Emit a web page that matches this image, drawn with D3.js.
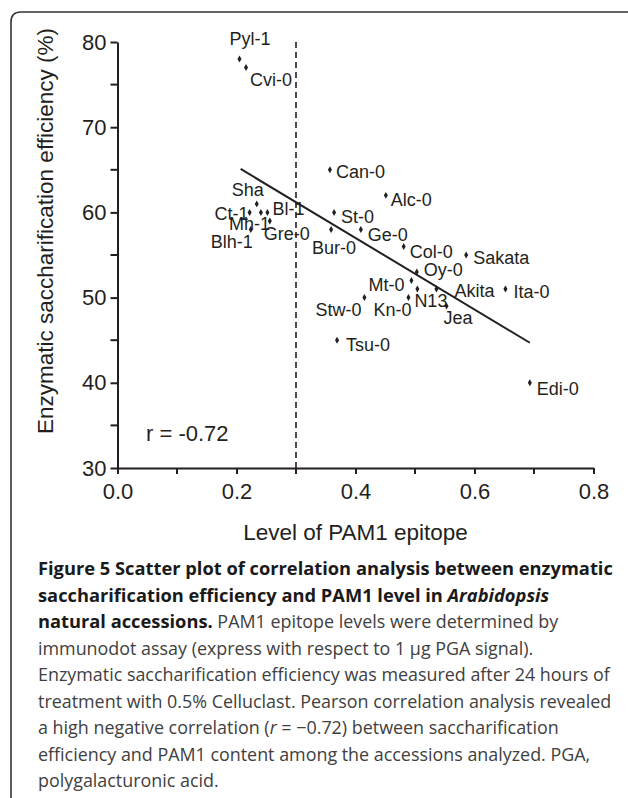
<!DOCTYPE html>
<meta charset="utf-8">
<style>
body { margin: 0; background: #fff; }
.axis text { font-family: 'Liberation Sans', Arial, sans-serif; font-size: 22px; fill: #231f20; }
.axis line, .axis path { stroke: #231f20; stroke-width: 2px; }
.pt-label { font-family: 'Liberation Sans', Arial, sans-serif; font-size: 18px; fill: #231f20; }
.caption { font-family: 'Open Sans', sans-serif; font-size: 18.3px; }
</style>
<div id='chart'></div>
<script src='https://cdn.jsdelivr.net/npm/d3@7/dist/d3.min.js'></script>
<script>

// accessions, PAM1 epitope level, saccharification efficiency (%)
const accessions = ['Pyl-1', 'Cvi-0', 'Sha', 'Ct-1', 'Mh-1', 'Bl-1', 'Gre-0', 'Blh-1',
                    'Can-0', 'Alc-0', 'St-0', 'Bur-0', 'Ge-0', 'Col-0', 'Sakata', 'Oy-0',
                    'Mt-0', 'Akita', 'N13', 'Kn-0', 'Stw-0', 'Jea', 'Ita-0', 'Tsu-0', 'Edi-0'];
const pam1Level = [0.205, 0.216, 0.234, 0.222, 0.241, 0.252, 0.256, 0.224,
                   0.357, 0.451, 0.364, 0.359, 0.409, 0.481, 0.586, 0.503,
                   0.494, 0.536, 0.504, 0.489, 0.415, 0.553, 0.652, 0.369, 0.693];
const efficiency = [78, 77, 61, 60, 60, 60, 59, 58,
                    65, 62, 60, 58, 58, 56, 55, 53,
                    52, 51, 51, 50, 50, 49, 51, 45, 40];

// regression line end points and threshold line
const fitX = [0.207, 0.693];
const fitY = [65.1, 44.7];
const thresholdX = 0.3;
const rLabel = 'r = -0.72';

const xTicks = [0, 0.2, 0.4, 0.6, 0.8];
const xMinorTicks = [0.1, 0.3, 0.5, 0.7];
const yTicks = [30, 40, 50, 60, 70, 80];
const yMinorTicks = [35, 45, 55, 65, 75];

// label placement (dx, dy from the dot, text anchor)
const labelPos = {
    'Pyl-1': [-10, -20, 'start'], 'Cvi-0': [4, 12, 'start'], 'Sha': [-25, -14, 'start'],
    'Ct-1': [-1, 1, 'end'], 'Mh-1': [-32, 11, 'start'], 'Bl-1': [5, -4, 'start'],
    'Gre-0': [-6, 13, 'start'], 'Blh-1': [-40, 12, 'start'], 'Can-0': [6, 2, 'start'],
    'Alc-0': [5, 4, 'start'], 'St-0': [7, 4, 'start'], 'Bur-0': [-19, 18, 'start'],
    'Ge-0': [7, 5, 'start'], 'Col-0': [6, 5, 'start'], 'Sakata': [7, 3, 'start'],
    'Oy-0': [7, -2, 'start'], 'Mt-0': [-7, 4, 'end'], 'Akita': [18, 2, 'start'],
    'N13': [-3, 12, 'start'], 'Kn-0': [3, 12, 'end'], 'Stw-0': [-3, 12, 'end'],
    'Jea': [-3, 12, 'start'], 'Ita-0': [8, 3, 'start'], 'Tsu-0': [9, 4, 'start'],
    'Edi-0': [7, 6, 'start']
};

const captionLines = [
    [['Figure 5 Scatter plot of correlation analysis between enzymatic', 'b']],
    [['saccharification efficiency and PAM1 level in ', 'b'], ['Arabidopsis', 'bi']],
    [['natural accessions.', 'b'], [' PAM1 epitope levels were determined by', 'n']],
    [['immunodot assay (express with respect to 1 \u03bcg PGA signal).', 'n']],
    [['Enzymatic saccharification efficiency was measured after 24 hours of', 'n']],
    [['treatment with 0.5% Celluclast. Pearson correlation analysis revealed', 'n']],
    [['a high negative correlation (', 'n'], ['r', 'i'], [' = \u22120.72) between saccharification', 'n']],
    [['efficiency and PAM1 content among the accessions analyzed. PGA,', 'n']],
    [['polygalacturonic acid.', 'n']]
];

const W = 628, H = 798;
const svg = d3.select('#chart').append('svg')
    .attr('width', W)
    .attr('height', H);

svg.append('rect').attr('width', W).attr('height', H).attr('fill', '#fff');

// open frame: top and left edges, rounded corner
svg.append('path')
    .attr('d', 'M11,' + H + ' V22 Q11,12 21,12 H' + W)
    .attr('fill', 'none')
    .attr('stroke', '#333')
    .attr('stroke-width', 1.6);

const x = d3.scaleLinear().domain([0, 0.8]).range([117.5, 593.5]);
const y = d3.scaleLinear().domain([30, 80]).range([468, 42]);

// x axis
const gx = svg.append('g')
    .attr('class', 'axis')
    .attr('transform', 'translate(0,' + y(30) + ')')
    .call(d3.axisBottom(x).tickValues(xTicks).tickFormat(d3.format('.1f')).tickSize(6).tickSizeOuter(0));
gx.selectAll('.tick text').attr('dy', '1.0em');
gx.selectAll('.minor').data(xMinorTicks).join('line')
    .attr('class', 'minor')
    .attr('x1', d => x(d)).attr('x2', d => x(d))
    .attr('y1', 0).attr('y2', 6);

// y axis
const gy = svg.append('g')
    .attr('class', 'axis')
    .attr('transform', 'translate(' + x(0) + ',0)')
    .call(d3.axisLeft(y).tickValues(yTicks).tickSize(7).tickSizeOuter(0));
gy.selectAll('.tick text').attr('x', -11);
gy.selectAll('.minor').data(yMinorTicks).join('line')
    .attr('class', 'minor')
    .attr('x1', 0).attr('x2', -7)
    .attr('y1', d => y(d)).attr('y2', d => y(d));

// axis titles
svg.append('text')
    .attr('x', (x(0) + x(0.8)) / 2)
    .attr('y', 540)
    .attr('text-anchor', 'middle')
    .attr('font-family', "'Liberation Sans', Arial, sans-serif")
    .attr('font-size', 22.5)
    .attr('fill', '#231f20')
    .text('Level of PAM1 epitope');

svg.append('text')
    .attr('transform', 'translate(53,231) rotate(-90)')
    .attr('text-anchor', 'middle')
    .attr('font-family', "'Liberation Sans', Arial, sans-serif")
    .attr('font-size', 22.5)
    .attr('fill', '#231f20')
    .text('Enzymatic saccharification efficiency (%)');

// threshold dashed line
svg.append('line')
    .attr('x1', x(thresholdX)).attr('x2', x(thresholdX))
    .attr('y1', y(80)).attr('y2', y(30))
    .attr('stroke', '#231f20')
    .attr('stroke-width', 1.6)
    .attr('stroke-dasharray', '6,4');

// regression line
svg.append('path')
    .datum(d3.zip(fitX, fitY))
    .attr('d', d3.line().x(d => x(d[0])).y(d => y(d[1])))
    .attr('fill', 'none')
    .attr('stroke', '#231f20')
    .attr('stroke-width', 2);

// points
const pts = accessions.map((name, i) => ({name: name, lvl: pam1Level[i], eff: efficiency[i]}));

svg.append('g').selectAll('path').data(pts).join('path')
    .attr('transform', d => 'translate(' + x(d.lvl) + ',' + y(d.eff) + ')')
    .attr('d', d3.symbol().type(d3.symbolDiamond).size(14))
    .attr('fill', '#231f20');

svg.append('g').selectAll('text').data(pts).join('text')
    .attr('class', 'pt-label')
    .attr('x', d => x(d.lvl) + labelPos[d.name][0])
    .attr('y', d => y(d.eff) + labelPos[d.name][1])
    .attr('dy', '0.35em')
    .attr('text-anchor', d => labelPos[d.name][2])
    .text(d => d.name);

// r value
svg.append('text')
    .attr('x', 146)
    .attr('y', 433)
    .attr('dy', '0.35em')
    .attr('font-family', "'Liberation Sans', Arial, sans-serif")
    .attr('font-size', 22)
    .attr('fill', '#231f20')
    .text(rLabel);

// caption
const cap = svg.append('g').attr('class', 'caption');
captionLines.forEach(function(line, i) {
    const t = cap.append('text')
        .attr('x', 38)
        .attr('y', 575 + i * 26.5);
    line.forEach(function(seg) {
        const bold = seg[1].indexOf('b') >= 0;
        t.append('tspan')
            .attr('font-weight', bold ? 700 : 400)
            .attr('font-size', bold ? 18.3 : 17.9)
            .attr('font-style', seg[1].indexOf('i') >= 0 ? 'italic' : 'normal')
            .attr('fill', bold ? '#1a1a1a' : '#404040')
            .text(seg[0]);
    });
});

</script>
